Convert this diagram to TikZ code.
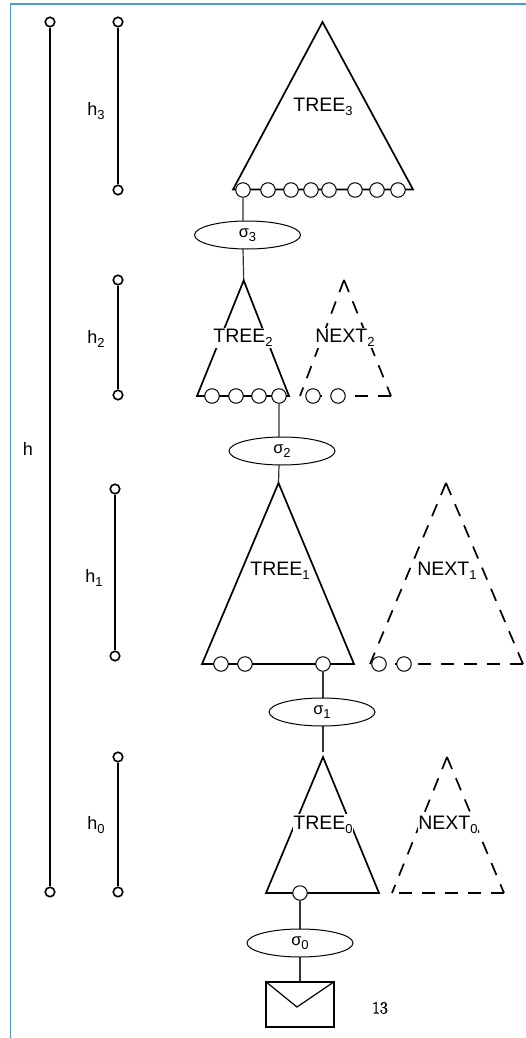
\documentclass[tikz,border=0pt]{standalone}
\usepackage{fontspec}
\setmainfont{Liberation Sans}
\newfontfamily\numfont{Latin Modern Roman}[FakeBold=2.5]
\usetikzlibrary{shapes.geometric}
\pgfdeclarelayer{behind}
\pgfsetlayers{behind,main}
\definecolor{framecol}{HTML}{4F9BCB}
\newcommand{\lab}[2]{#1{\fontsize{13}{13}\selectfont\raisebox{-3.5pt}{#2}}}
\tikzset{
  x=1pt,y=-1pt,
  tree/.style={line width=1.7pt,line join=miter},
  dashtree/.style={line width=1.7pt,dash pattern=on 13pt off 10pt},
  link/.style={line width=1.2pt,draw=black!80},
  leaf/.style={circle,draw,line width=1pt,fill=white,minimum size=14.5pt,inner sep=0pt},
  sel/.style={ellipse,draw,line width=1pt,fill=white,minimum width=106pt,minimum height=28pt,inner sep=0pt,font=\fontsize{16.5}{16.5}\selectfont},
  title/.style={font=\fontsize{19.5}{19.5}\selectfont,inner sep=0pt},
  gap/.style={title,fill=white,inner ysep=2pt,inner xsep=0pt},
  hbar/.style={line width=2pt},
  hend/.style={circle,draw,line width=1.6pt,fill=white,minimum size=9.5pt,inner sep=0pt},
  hlab/.style={font=\fontsize{18}{18}\selectfont,inner sep=0pt}
}
\begin{document}
\begin{tikzpicture}
\useasboundingbox (0,0) rectangle (526,1038);
\draw[framecol,line width=1.5pt] (10.5,1038) -- (10.5,4) -- (526,4);
% height bars
\node[hend] (ha) at (50,22) {};
\node[hend] (hb) at (50,892) {};
\draw[hbar] (ha) -- (hb);
\node[hlab] (hl) at (28,449) {h};
\node[hend] (h3a) at (118,22) {};
\node[hend] (h3b) at (118,190) {};
\draw[hbar] (h3a) -- (h3b);
\node[hlab] (h3l) at (96,111) {\lab{h}{3}};
\node[hend] (h2a) at (118,280) {};
\node[hend] (h2b) at (118,395) {};
\draw[hbar] (h2a) -- (h2b);
\node[hlab] (h2l) at (96,339) {\lab{h}{2}};
\node[hend] (h1a) at (115,489) {};
\node[hend] (h1b) at (115,656) {};
\draw[hbar] (h1a) -- (h1b);
\node[hlab] (h1l) at (94,578) {\lab{h}{1}};
\node[hend] (h0a) at (118,757) {};
\node[hend] (h0b) at (118,892) {};
\draw[hbar] (h0a) -- (h0b);
\node[hlab] (h0l) at (96,825) {\lab{h}{0}};
% TREE3
\coordinate (t3) at (322.5,22);
\draw[tree] (233,189.5) -- (t3) -- (413,189.5) -- cycle;
\node[title] (t3l) at (323,107) {\lab{TREE}{3}};
\foreach \n/\x in {a/243,b/268,c/291,d/311,e/329,f/355,g/377,h/398}
  \node[leaf] (c3\n) at (\x,190) {};
\node[sel] (s3) at (247.5,235) {\lab{σ}{3}};
% TREE2
\coordinate (t2) at (243.7,280.5);
\draw[tree] (197,396) -- (t2) -- (289,396) -- cycle;
\node[gap] (t2l) at (243,338) {\lab{TREE}{2}};
\foreach \n/\x in {a/212,b/236,c/259,d/279}
  \node[leaf] (c2\n) at (\x,396) {};
% NEXT2
\coordinate (n2) at (344,280);
\draw[dashtree] (n2) -- (300,396);
\draw[dashtree] (n2) -- (391,396);
\draw[dashtree] (391,396) -- (300,396);
\node[gap] (n2l) at (345,338) {\lab{NEXT}{2}};
\foreach \n/\x in {a/313,b/338}
  \node[leaf] (d2\n) at (\x,396) {};
\node[sel] (s2) at (282,451) {\lab{σ}{2}};
% TREE1
\coordinate (t1) at (278.5,483);
\draw[tree] (202,664) -- (t1) -- (354,664) -- cycle;
\node[title] (t1l) at (280,571) {\lab{TREE}{1}};
\foreach \n/\x in {a/221,b/245,c/323}
  \node[leaf] (c1\n) at (\x,664) {};
% NEXT1
\coordinate (n1) at (446,483);
\draw[dashtree] (n1) -- (370,664);
\draw[dashtree] (n1) -- (523,664);
\draw[dashtree] (523,664) -- (370,664);
\node[title] (n1l) at (447,571) {\lab{NEXT}{1}};
\foreach \n/\x in {a/379,b/404}
  \node[leaf] (d1\n) at (\x,664) {};
\node[sel] (s1) at (322,712) {\lab{σ}{1}};
% TREE0
\coordinate (t0) at (323,757);
\coordinate (t0end) at (323,752);
\draw[tree] (266,893) -- (t0) -- (379,893) -- cycle;
\node[gap] (t0l) at (323,825) {\lab{TREE}{0}};
\node[leaf] (c0a) at (300,893) {};
% NEXT0
\coordinate (n0) at (447,757);
\draw[dashtree] (n0) -- (392,893);
\draw[dashtree] (n0) -- (504,893);
\draw[dashtree] (504,893) -- (392,893);
\node[gap] (n0l) at (448,825) {\lab{NEXT}{0}};
\node[sel] (s0) at (300,943) {\lab{σ}{0}};
% envelope
\node[draw,line width=1.2pt,minimum width=68pt,minimum height=45pt,inner sep=0pt] (env) at (300,1004.5) {};
\coordinate (flap) at (297,1007);
\draw[line width=1.2pt] (env.north west) -- (flap) -- (env.north east);
\node[inner sep=0pt,font=\numfont\fontsize{17}{17}\selectfont] (num) at (380,1008) {13};
% connectors
\begin{pgfonlayer}{behind}
\draw[link] (c3a) -- (c3a |- s3.north) -- (c3a |- s3.south) -- (t2);
\draw[link] (c2d) -- (c2d |- s2.north) -- (c2d |- s2.south) -- (t1);
\draw[link] (c1c) -- (c1c |- s1.north) -- (c1c |- s1.south) -- (t0end);
\draw[link] (c0a) -- (c0a |- s0.north) -- (c0a |- s0.south) -- (c0a |- env.north);
\end{pgfonlayer}
\end{tikzpicture}
\end{document}
